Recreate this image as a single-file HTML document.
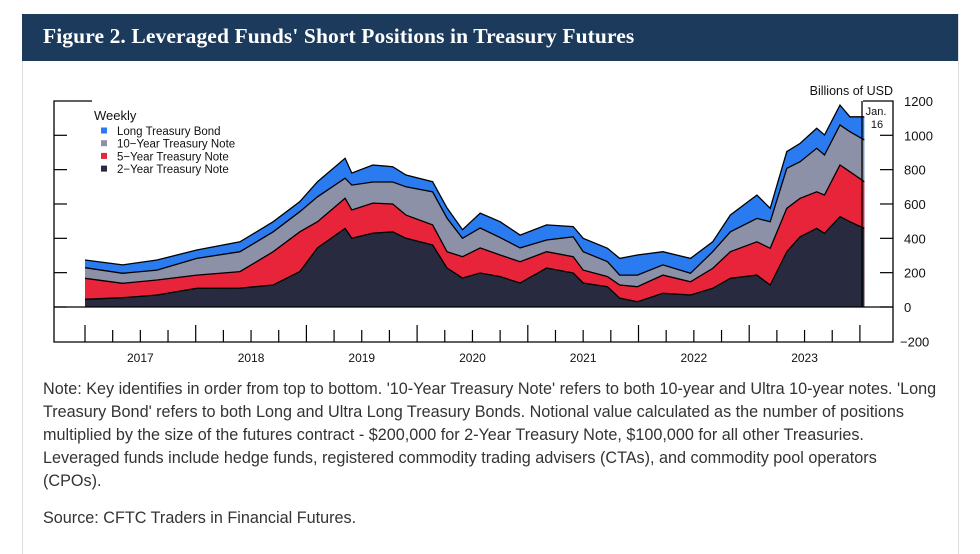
<!DOCTYPE html>
<html><head><meta charset="utf-8">
<style>
body{margin:0;background:#fff;width:980px;height:544px;overflow:hidden;font-family:"Liberation Sans",sans-serif;}
#hdr{position:absolute;left:22px;top:14px;width:936px;height:47px;background:#1b3a5c;}
#hdr span{position:absolute;left:21px;top:10px;color:#fff;font-family:"Liberation Serif",serif;font-weight:bold;font-size:21.5px;letter-spacing:0.1px;}
#card{position:absolute;left:22px;top:14px;width:935px;height:540px;border-left:1px solid #ddd;border-right:1px solid #ddd;}
#note{position:absolute;left:43px;top:378px;width:920px;font-size:16.2px;line-height:23px;color:#333;white-space:nowrap;}
#src{position:absolute;left:43px;top:509px;font-size:16.2px;color:#333;}
svg{position:absolute;left:0;top:0;}
</style></head><body>
<div id="card"></div>
<div id="hdr"><span>Figure 2. Leveraged Funds' Short Positions in Treasury Futures</span></div>
<svg id="chart" width="980" height="544"></svg>
<div id="note">Note: Key identifies in order from top to bottom. '10-Year Treasury Note' refers to both 10-year and Ultra 10-year notes. 'Long<br>Treasury Bond' refers to both Long and Ultra Long Treasury Bonds. Notional value calculated as the number of positions<br>multiplied by the size of the futures contract - $200,000 for 2-Year Treasury Note, $100,000 for all other Treasuries.<br>Leveraged funds include hedge funds, registered commodity trading advisers (CTAs), and commodity pool operators<br>(CPOs).</div>
<div id="src">Source: CFTC Traders in Financial Futures.</div>
<script>
const dates=[2017.00,2017.34,2017.65,2018.01,2018.40,2018.70,2018.94,2019.10,2019.35,2019.41,2019.60,2019.78,2019.90,2020.14,2020.27,2020.41,2020.57,2020.75,2020.93,2021.17,2021.41,2021.50,2021.72,2021.83,2021.99,2022.22,2022.47,2022.67,2022.83,2023.07,2023.19,2023.34,2023.46,2023.61,2023.68,2023.82,2023.91,2024.04];
const twoYear=[45,54,70,109,110,128,206,344,458,400,430,438,400,361,227,169,198,177,140,227,198,140,118,51,31,80,70,109,167,186,128,322,409,458,429,526,497,458];
const fiveYear=[122,84,87,77,96,194,232,153,175,165,175,162,135,117,95,124,146,126,124,95,95,75,59,77,87,106,77,116,155,194,214,253,224,213,223,301,291,272];
const tenYear=[62,58,58,97,116,116,117,145,117,145,123,128,165,193,196,107,116,101,80,68,116,107,87,58,68,59,49,97,116,136,155,233,213,253,233,233,233,243];
const longBond=[45,49,59,49,58,59,58,88,116,70,99,89,69,59,59,50,87,93,75,88,59,78,78,97,117,77,87,58,98,136,78,97,107,117,117,116,87,135];
const yTicks=[1200,1000,800,600,400,200,0,-200];
const yearLabels=["2017","2018","2019","2020","2021","2022","2023"];
const seriesNames=["Long Treasury Bond","10\u2212Year Treasury Note","5\u2212Year Treasury Note","2\u2212Year Treasury Note"];
const colors=["#2a7bf0","#8d91a8","#e8243a","#282a40"];

const NS="http://www.w3.org/2000/svg";
const svg=document.getElementById('chart');
const X=t=>85+(t-2017)*110.7;
const Y=v=>307-v*0.1717;
function el(tag,attrs,parent){const e=document.createElementNS(NS,tag);for(const k in attrs)e.setAttribute(k,attrs[k]);(parent||svg).appendChild(e);return e;}

const comps=[twoYear,fiveYear,tenYear,longBond];
const cum=[];let run=dates.map(()=>0);
comps.forEach(c=>{run=run.map((v,i)=>v+c[i]);cum.push(run.slice());});
const names=["area-2-year-note","area-5-year-note","area-10-year-note","area-long-bond"];
const fillc=[colors[3],colors[2],colors[1],colors[0]];
for(let s=3;s>=0;s--){
  let d=`M${X(dates[0])},${Y(0)}`;
  dates.forEach((t,i)=>{d+=` L${X(t).toFixed(1)},${Y(cum[s][i]).toFixed(1)}`;});
  d+=` L${X(dates[dates.length-1])},${Y(0)} Z`;
  const p=el('path',{d:d,fill:fillc[s],stroke:'none'});
  
  
  let l='';dates.forEach((t,i)=>{l+=(i?' L':'M')+X(t).toFixed(1)+','+Y(cum[s][i]).toFixed(1);});
  const ln=el('path',{d:l,fill:'none',stroke:'#000','stroke-width':1.3});
  
  
}
const fr=el('path',{d:'M92,101 H54 V342 H893 V101 H863 M54,307 H893 M862,101 V307',fill:'none',stroke:'#000','stroke-width':1.3});


yTicks.forEach(v=>{
  if(v>-200&&v<1200){
    const a=el('line',{x1:54,x2:67,y1:Y(v),y2:Y(v),stroke:'#000','stroke-width':1.2});
    
    
    const b=el('line',{x1:880,x2:893,y1:Y(v),y2:Y(v),stroke:'#000','stroke-width':1.2});
    
    
  }
  const t=el('text',{x:v<0?900:904,y:Y(v)+5,'font-size':13,fill:'#111'});
  t.textContent=v<0?'\u2212200':String(v);
  
  
});
for(let q=0;q<=28;q++){
  const x=X(2017+q/4);
  const tk=el('line',{x1:x,x2:x,y1:q%4===0?325:330,y2:342,stroke:'#000','stroke-width':1.2});
  
  
}
yearLabels.forEach((lab,i)=>{
  const t=el('text',{x:X(2017.5+i),y:362,'font-size':12,'text-anchor':'middle',fill:'#111'});
  t.textContent=lab;
  
  
});
const u=el('text',{x:893,y:95,'font-size':12.5,'text-anchor':'end',fill:'#111'});u.textContent='Billions of USD';


const j1=el('text',{x:876,y:115,'font-size':11,'text-anchor':'middle',fill:'#111'});j1.textContent='Jan.';


const j2=el('text',{x:877,y:128,'font-size':11,'text-anchor':'middle',fill:'#111'});j2.textContent='16';


const wk=el('text',{x:94,y:120,'font-size':13,fill:'#111'});wk.textContent='Weekly';


seriesNames.forEach((n,i)=>{
  const y=131+i*12.7;
  const r=el('rect',{x:101,y:y-3.5,width:6,height:6,fill:colors[i]});
  
  
  const t=el('text',{x:117,y:y+4,'font-size':11.5,fill:'#111'});t.textContent=n;
  
  
});
</script>
</body></html>
